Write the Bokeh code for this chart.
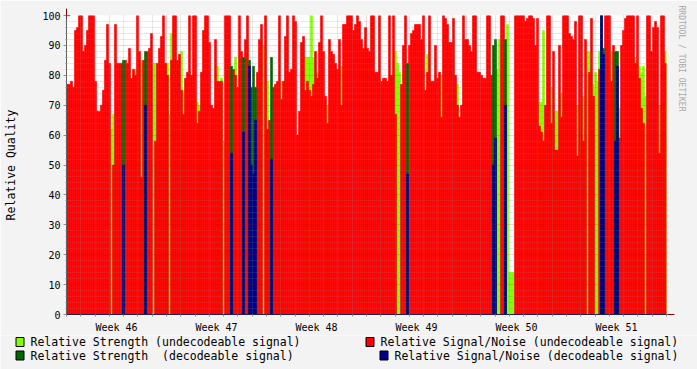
import numpy as np
from bokeh.plotting import figure
from bokeh.layouts import column
from bokeh.models import Range1d, FixedTicker, Title, Arrow, NormalHead
from bokeh.core.properties import value
from bokeh.embed import file_html
from bokeh.resources import INLINE

# ---- time base of the samples (days from Monday of week 46) ----
start_day = 0.0
step_days = 0.14

# ---- Relative Signal/Noise, undecodeable signal (None = no such sample) ----
sn_undecodeable = [
    77, 77, 78, 76, 95, 96, 100, 100, 88, 90,
    95, 100, 100, 100, 78, 68, 68, 70, 75, 85,
    97, 84, None, 50, 97, 84, 84, 84, None, 85,
    84, 89, 79, 82, 80, 100, 88, 46, 85, None,
    88, 89, 94, None, 58, 84, 89, 93, 100, 84,
    80, None, 85, 100, 100, 85, 87, 75, 67, 79,
    81, 100, 80, 100, 100, 64, 68, 81, 95, 100,
    100, 91, 70, 69, 92, 78, 78, 78, None, 100,
    100, 100, None, 82, 80, 76, 100, 88, None, 92,
    100, None, None, None, None, 81, 92, 97, None, 100,
    62, 65, None, 76, 77, 78, 100, 72, 78, 93,
    100, 81, 82, 100, 98, 60, 68, 91, 93, 75,
    78, 75, 73, 77, 88, 79, 91, 100, 88, 73,
    64, 92, 88, 87, 84, 82, 92, 70, 97, 97,
    100, 100, 100, 95, 97, 100, 98, 92, 89, 96,
    89, 88, 100, 100, 81, 81, 100, 78, 79, 79,
    78, 100, 80, 100, 67, None, None, 77, 90, 100,
    None, 90, 94, 95, 97, 97, 97, 92, 100, 75,
    81, 100, 78, 78, 90, 79, 81, 66, 100, 99,
    97, 91, 91, 99, 80, 70, 66, 70, 100, 92,
    92, 90, 88, 100, 100, 81, 81, 80, 79, 79,
    100, 100, 80, None, None, None, None, 100, 100, None,
    None, None, None, None, 100, 100, 100, 100, 100, 98,
    99, 100, 100, 99, 90, 99, 63, 61, 58, 70,
    100, 100, 64, 88, 55, 55, 90, 66, 100, 100,
    100, 94, 93, 92, 98, 53, 100, 100, 58, 92,
    None, 81, 99, 73, None, None, 82, None, None, 100,
    100, 100, 78, 90, None, None, 59, 90, 95, 99,
    100, 100, 100, 100, 84, 100, 79, 69, 64, None,
    100, 100, 88, 96, 98, 96, 54, 100, 100, 84,
]

# ---- Relative Strength, undecodeable signal (sample index -> value) ----
strength_undec_idx = [
    22, 23, 34, 37, 43, 44, 46, 49,
    50, 51, 52, 57, 58, 65, 66, 75, 77, 78, 84, 98,
    100, 107, 119, 120, 121, 122, 123, 125, 130, 137, 148,
    164, 165, 166, 180, 187, 195,
    215, 216, 220, 221, 222, 223, 236, 237, 238, 242, 244, 245, 247,
    255, 258, 260, 261, 263, 264, 265, 266, 272, 276, 284, 286, 287, 288, 289, 296, 299,
]
strength_undec_val = [
    62, 67, 82, 85, 84, 84, 75, 84,
    84, 67, 94, 88, 75, 71, 70, 83, 79, 58, 86, 90,
    78, 78, 86, 86, 86, 100, 86, 81, 70, 83, 86,
    88, 84, 81, 87, 80, 77,
    82, 92, 97, 14, 14, 14, 71, 71, 95, 76, 68, 68, 74,
    70, 73, 88, 88, 77, 81, 78, 88, 88, 69, 86, 83, 81, 83, 73, 70, 88,
]

# ---- decodeable signal samples ----
dec_idx = [28, 39, 82, 88, 91, 92, 93, 94, 102, 170, 213, 214, 219, 267, 268, 274, 275]
strength_dec_val = [85, 88, 83, 86, 85, 76, 83, 76, 86, 84, 90, 92, 92, 100, 89, 88, 88]
sn_dec_val = [50, 70, 54, 61, 83, 50, 47, 65, 52, 47, 50, 59, 70, 100, 87, 58, 83]

week_labels = ["Week 46", "Week 47", "Week 48", "Week 49", "Week 50", "Week 51"]
legend_labels = [
    "Relative Strength (undecodeable signal)",
    "Relative Strength \u00a0(decodeable signal)",
    "Relative Signal/Noise (undecodeable signal)",
    "Relative Signal/Noise (decodeable signal)",
]

C_LGREEN = "#80FF00"
C_DGREEN = "#006600"
C_RED = "#FF0000"
C_BLUE = "#000090"
BACK = "#F3F3F3"
FONT = "DejaVu Sans Mono"
legend_colors = [C_LGREEN, C_DGREEN, C_RED, C_BLUE]

n_days = len(week_labels) * 7
W = 697
H_MAIN = 335
H_LEG = 34

p = figure(width=W, height=H_MAIN, x_range=Range1d(0, n_days), y_range=Range1d(0, 100),
           output_backend="svg", toolbar_location=None,
           min_border_left=66, min_border_right=31, min_border_top=15, min_border_bottom=20,
           background_fill_color="white", border_fill_color=BACK)
p.outline_line_color = None
p.frame_align = False


def draw(idx, vals, color):
    left = [start_day + i * step_days for i in idx]
    right = [l + step_days for l in left]
    return p.quad(left=left, right=right, bottom=0, top=vals, fill_color=color,
                  line_color=color, line_width=0.6)


draw(strength_undec_idx, strength_undec_val, C_LGREEN)
red_idx = [i for i, v in enumerate(sn_undecodeable) if v is not None]
draw(red_idx, [sn_undecodeable[i] for i in red_idx], C_RED)
draw(dec_idx, strength_dec_val, C_DGREEN)
draw(dec_idx, sn_dec_val, C_BLUE)

# ---- grid (drawn over the data, RRDtool style) ----
week_bounds = [7 * k for k in range(1, len(week_labels) + 1)]
day_ticks = [d for d in range(0, n_days + 1) if d % 7 != 0]
p.xgrid.ticker = FixedTicker(ticks=week_bounds, minor_ticks=day_ticks)
p.ygrid.ticker = FixedTicker(ticks=list(range(10, 101, 10)),
                             minor_ticks=[v for v in range(2, 100, 2) if v % 10 != 0])
for g in (p.xgrid, p.ygrid):
    g.level = "overlay"
    g.grid_line_color = "#C00000"
    g.grid_line_alpha = 0.35
    g.grid_line_dash = "1 1"
    g.minor_grid_line_color = "#808080"
    g.minor_grid_line_alpha = 0.35
    g.minor_grid_line_dash = "1 1"

# ---- axes ----
mid_weeks = [7 * k + 3.5 for k in range(len(week_labels))]
p.xaxis.ticker = FixedTicker(ticks=mid_weeks, minor_ticks=list(range(0, n_days + 1)))
p.xaxis.major_label_overrides = {m: lab for m, lab in zip(mid_weeks, week_labels)}
p.xaxis.major_tick_out = 0
p.xaxis.major_tick_in = 0
p.xaxis.minor_tick_out = 2
p.xaxis.minor_tick_in = 0
p.xaxis.major_label_standoff = 5
p.xaxis.axis_line_color = "#202050"

p.yaxis.ticker = FixedTicker(ticks=list(range(0, 101, 10)),
                             minor_ticks=[v for v in range(2, 100, 2) if v % 10 != 0])
p.yaxis.major_tick_out = 3
p.yaxis.major_tick_in = 0
p.yaxis.minor_tick_out = 1
p.yaxis.minor_tick_in = 0
p.yaxis.major_label_standoff = 3
p.yaxis.axis_label = "Relative Quality"
p.yaxis.axis_label_standoff = 21
p.yaxis.axis_line_color = "#606060"

for ax in (p.xaxis, p.yaxis):
    ax.major_label_text_font = FONT
    ax.major_label_text_font_size = "10px"
    ax.major_label_text_color = "black"
    ax.major_tick_line_color = "#909090"
    ax.minor_tick_line_color = "#909090"
p.yaxis.axis_label_text_font = FONT
p.yaxis.axis_label_text_font_size = "11.5px"
p.yaxis.axis_label_text_font_style = "normal"
p.yaxis.axis_label_text_color = "black"

# ---- small arrow heads at the axis ends ----
head_c = "#7F0000"
p.add_layout(Arrow(end=NormalHead(size=7, fill_color=head_c, line_color=head_c),
                   x_start=0, y_start=99, x_end=0, y_end=102.3, line_color=head_c, line_width=1))
p.add_layout(Arrow(end=NormalHead(size=7, fill_color=head_c, line_color=head_c),
                   x_start=n_days - 0.1, y_start=0, x_end=n_days + 0.55, y_end=0,
                   line_color=head_c, line_width=1))

# ---- vertical watermark on the right ----
p.add_layout(Title(text="RRDTOOL / TOBI OETIKER", align="left", offset=-10, standoff=20,
                   text_font=FONT, text_font_size="8px", text_font_style="normal",
                   text_color="#A8A8A8"), "right")

# ---- legend strip below the chart (pixel coordinates, y downwards) ----
leg = figure(width=W, height=H_LEG, x_range=Range1d(0, W), y_range=Range1d(H_LEG, 0),
             output_backend="svg", toolbar_location=None,
             min_border=0, background_fill_color=BACK, border_fill_color=BACK)
leg.axis.visible = False
leg.grid.visible = False
leg.outline_line_color = None
leg.frame_align = False

box_x = [15.5, 15.5, 365.5, 379.5]
row_y = [6.5, 20, 6.5, 20]
text_x = [30, 30, 380, 394]
leg.quad(left=box_x, right=[b + 8 for b in box_x],
         top=[r - 4.5 for r in row_y], bottom=[r + 4.5 for r in row_y],
         fill_color=legend_colors, line_color="black", line_width=1)
leg.text(x=text_x, y=row_y, text=legend_labels, text_font=value(FONT),
         text_font_size=value("11.5px"), text_color="black",
         text_align="left", text_baseline="middle")

layout = column(p, leg, spacing=0)
open("out.html", "w").write(file_html(layout, INLINE))
